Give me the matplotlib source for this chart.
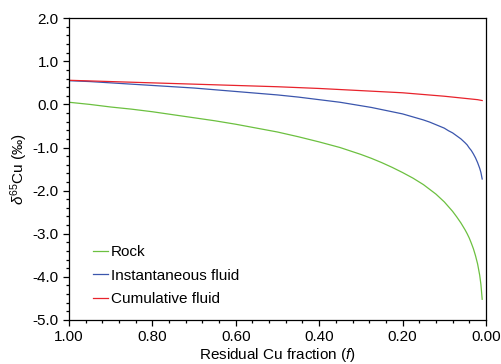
import matplotlib
matplotlib.use("Agg")
import matplotlib.pyplot as plt
from matplotlib.ticker import MultipleLocator, FormatStrFormatter

plt.rcParams['font.family'] = ['Liberation Sans', 'DejaVu Sans']
plt.rcParams['mathtext.fontset'] = 'custom'
plt.rcParams['mathtext.rm'] = 'Liberation Sans'
plt.rcParams['mathtext.it'] = 'Liberation Sans:italic'
plt.rcParams['axes.unicode_minus'] = False

# residual Cu fraction and delta65Cu values
f_rock = [1.0, 0.95, 0.9, 0.85, 0.8, 0.75, 0.7, 0.65, 0.6, 0.55, 0.5, 0.45, 0.4, 0.35, 0.3,
          0.275, 0.25, 0.225, 0.2, 0.175, 0.15, 0.135, 0.12, 0.11, 0.1, 0.09,
          0.08, 0.07, 0.06, 0.05, 0.045, 0.04, 0.035, 0.03, 0.025, 0.02, 0.015, 0.012, 0.009]
rock = [0.05, 0.0, -0.06, -0.11, -0.17, -0.24, -0.31, -0.38, -0.46, -0.55, -0.64, -0.75, -0.87, -1.00, -1.16,
        -1.25, -1.35, -1.46, -1.58, -1.71, -1.86, -1.97, -2.08, -2.17, -2.26, -2.37,
        -2.48, -2.61, -2.75, -2.91, -3.00, -3.10, -3.22, -3.35, -3.51, -3.70, -3.96, -4.18, -4.52]

f_inst = [1.0, 0.95, 0.9, 0.85, 0.8, 0.75, 0.7, 0.65, 0.6, 0.55, 0.5, 0.45, 0.4, 0.35, 0.3,
          0.275, 0.25, 0.225, 0.2, 0.175, 0.15, 0.135, 0.12, 0.11, 0.1, 0.09,
          0.08, 0.07, 0.06, 0.05, 0.045, 0.04, 0.035, 0.03, 0.025, 0.02, 0.015, 0.012, 0.009]
inst = [0.55, 0.53, 0.50, 0.47, 0.44, 0.41, 0.38, 0.34, 0.30, 0.26, 0.22, 0.17, 0.11, 0.05, -0.03,
        -0.07, -0.12, -0.17, -0.22, -0.29, -0.36, -0.41, -0.47, -0.51, -0.55, -0.61,
        -0.66, -0.73, -0.80, -0.89, -0.94, -1.01, -1.07, -1.15, -1.24, -1.35, -1.48, -1.58, -1.73]

f_cum = [1.0, 0.9, 0.8, 0.7, 0.6, 0.5, 0.4, 0.3, 0.2, 0.15, 0.1, 0.05, 0.02, 0.009]
cum = [0.56, 0.53, 0.50, 0.47, 0.44, 0.41, 0.37, 0.32, 0.27, 0.23, 0.19, 0.14, 0.11, 0.09]

fig = plt.figure(figsize=(5.02, 3.64), dpi=100)
ax = fig.add_axes([0.1375, 0.121, 0.8305, 0.829])

ax.plot(f_rock, rock, color='#6cc040', lw=0.9, label='Rock')
ax.plot(f_inst, inst, color='#3b56ad', lw=0.9, label='Instantaneous fluid')
ax.plot(f_cum, cum, color='#e8232c', lw=0.9, label='Cumulative fluid')

ax.set_xlim(1.0, 0.0)
ax.set_ylim(-5.0, 2.0)
ax.xaxis.set_major_locator(MultipleLocator(0.2))
ax.xaxis.set_minor_locator(MultipleLocator(0.04))
ax.yaxis.set_major_locator(MultipleLocator(1.0))
ax.yaxis.set_minor_locator(MultipleLocator(0.2))
ax.xaxis.set_major_formatter(FormatStrFormatter('%.2f'))
ax.yaxis.set_major_formatter(FormatStrFormatter('%.1f'))
ax.tick_params(which='both', direction='out', top=False, right=False, labelsize=11, width=0.9)
ax.tick_params(which='major', length=4)
ax.tick_params(which='minor', length=2.5)
for s in ax.spines.values():
    s.set_linewidth(0.9)

ax.set_xlabel('Residual Cu fraction ($f$)', fontsize=11, labelpad=1)
ax.set_ylabel(r'$\delta^{65}$Cu (‰)', fontsize=11, labelpad=2)

ax.legend(loc='lower left', frameon=False, fontsize=11, handlelength=1.0, handletextpad=0.15,
          labelspacing=0.62, bbox_to_anchor=(0.025, 0.0))

fig.savefig('out.png', dpi=100)
